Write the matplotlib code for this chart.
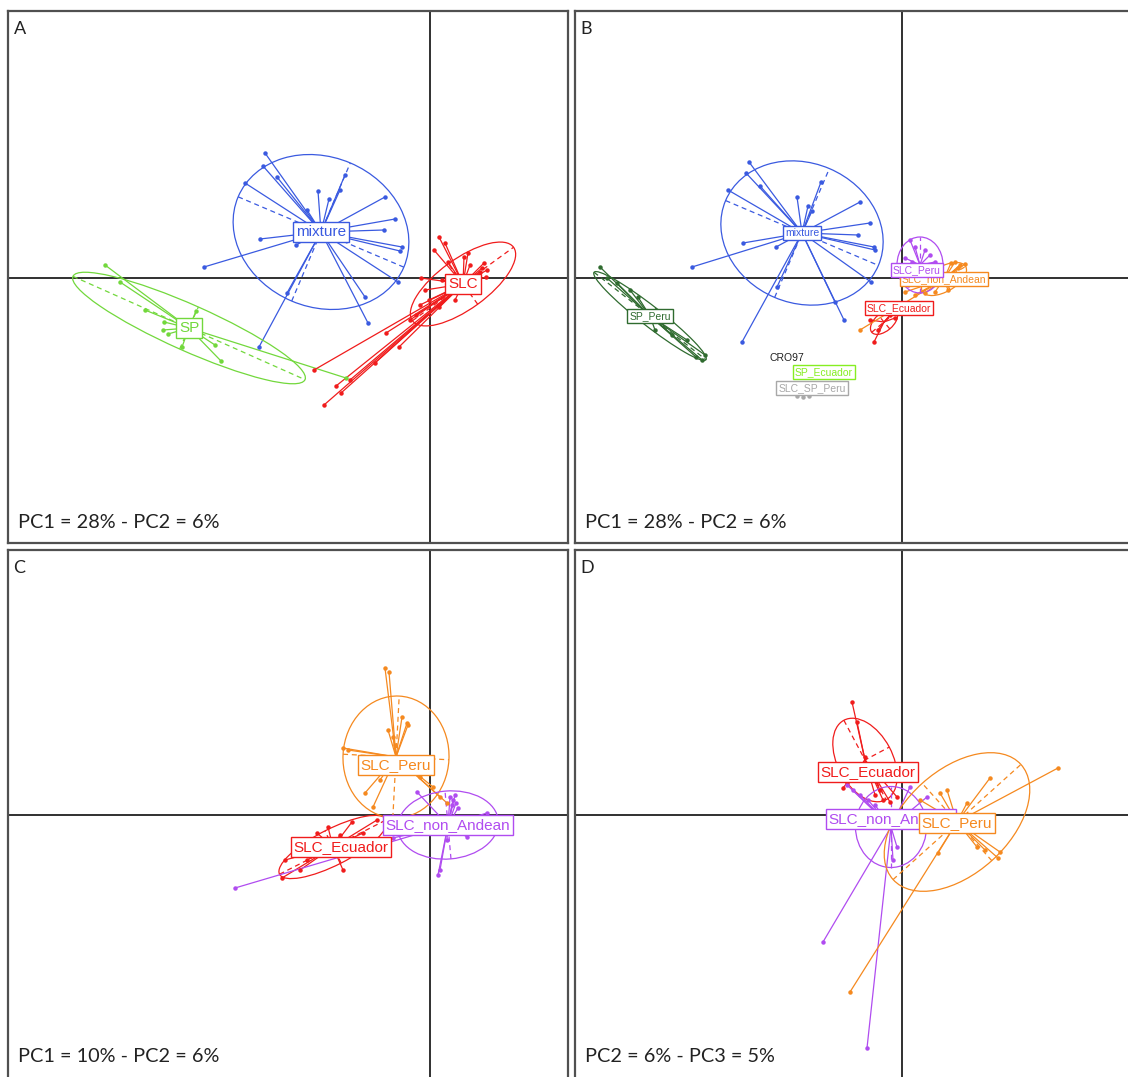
import matplotlib
matplotlib.use("Agg")
import matplotlib.pyplot as plt
from matplotlib.patches import Ellipse
import numpy as np

# ---------------- Panel A : PC1 (28%) x PC2 (6%) ----------------
A_MIX_X = [-1.65, -1.67, -1.85, -1.53, -1.12, -1.01, -0.85, -0.45, -0.35, -0.46, -0.28,
           -0.30, -0.32, -0.65, -0.62, -1.43, -1.71, -2.26, -1.70, -1.34, -1.23, -0.90]
A_MIX_Y = [1.25, 1.12, 0.95, 1.01, 0.87, 0.79, 1.03, 0.81, 0.59, 0.48, 0.31,
           0.27, -0.04, -0.19, -0.45, -0.15, -0.69, 0.11, 0.39, 0.33, 0.68, 0.88]
A_MIX_CENTER = (-1.09, 0.46)
A_MIX_ELL = (1.80, 1.50, -23)

A_SP_X = [-3.25, -3.10, -2.85, -2.66, -2.67, -2.62, -2.48, -2.34, -2.09, -0.84, -2.15]
A_SP_Y = [0.13, -0.04, -0.32, -0.44, -0.52, -0.56, -0.69, -0.33, -0.83, -1.00, -0.67]
A_SP_CENTER = (-2.41, -0.50)
A_SP_ELL = (2.54, 0.46, -24)

A_SLC_X = [-1.06, -0.94, -0.89, -1.16, -0.44, -0.31, -0.55, -0.80, -0.20, -0.10,
           0.09, 0.15, 0.34, 0.38, 0.04, -0.09, 0.54, 0.56, -0.01, 0.09, 0.16,
           0.50, 0.52, 0.48, 0.45, 0.25, 0.12, 0.57, 0.40, 0.18, -0.05, -0.14]
A_SLC_Y = [-1.27, -1.08, -1.15, -0.92, -0.55, -0.69, -0.85, -1.02, -0.42, -0.27,
           0.41, 0.35, 0.21, 0.25, 0.28, 0.00, 0.15, 0.01, -0.22, -0.29, -0.15,
           0.06, 0.10, -0.02, -0.14, -0.22, -0.02, 0.08, 0.13, 0.16, -0.12, -0.37]
A_SLC_CENTER = (0.33, -0.06)
A_SLC_ELL = (1.25, 0.50, 36)

# ---------------- Panel B : PC1 (28%) x PC2 (6%), origin split ----------------
B_MIX_X = [-1.53, -1.56, -1.74, -1.42, -1.05, -0.94, -0.81, -0.42, -0.32, -0.44, -0.28,
           -0.27, -0.31, -0.67, -0.58, -1.26, -1.60, -2.10, -1.59, -1.25, -0.90]
B_MIX_Y = [1.16, 1.05, 0.88, 0.92, 0.81, 0.72, 0.96, 0.76, 0.55, 0.43, 0.31,
           0.28, -0.04, -0.24, -0.42, 0.31, -0.64, 0.11, 0.35, -0.09, 0.67]
B_MIX_CENTER = (-1.00, 0.45)
B_MIX_ELL = (1.66, 1.40, -23)

B_SPPERU_X = [-3.02, -2.95, -2.85, -2.64, -2.47, -2.30, -2.15, -1.97, -2.00, -2.06, -2.72]
B_SPPERU_Y = [0.11, 0.00, -0.05, -0.19, -0.52, -0.57, -0.62, -0.77, -0.82, -0.79, -0.12]
B_SPPERU_CENTER = (-2.52, -0.38)
B_SPPERU_ELL = (1.42, 0.20, -38)

B_SLCPERU_X = [0.08, 0.13, 0.23, 0.28, 0.03, 0.33, 0.10, -0.02, 0.16, 0.06, 0.38]
B_SLCPERU_Y = [0.38, 0.31, 0.28, 0.23, 0.20, 0.16, 0.16, 0.10, -0.02, -0.07, 0.08]
B_SLCPERU_CENTER = (0.18, 0.13)
B_SLCPERU_ELL = (0.46, 0.56, 0)

B_NONAND_X = [0.49, 0.53, 0.58, 0.63, 0.56, 0.03, 0.13, 0.23, 0.33, 0.46, -0.42]
B_NONAND_Y = [0.15, 0.16, 0.13, 0.14, 0.10, -0.14, -0.17, -0.15, -0.14, -0.12, -0.52]
B_NONAND_CENTER = (0.42, -0.01)
B_NONAND_ELL = (0.50, 0.25, 30)

B_ECU_X = [-0.28, -0.12, -0.07, -0.24, -0.02, -0.32]
B_ECU_Y = [-0.64, -0.37, -0.40, -0.52, -0.27, -0.42]
B_ECU_CENTER = (-0.18, -0.44)
B_ECU_ELL = (0.32, 0.18, 40)

B_SPECU_POS = (-0.78, -0.94)
B_SLCSP_POS = (-0.90, -1.10)
B_SLCSP_X = [-1.05, -0.99, -0.93]
B_SLCSP_Y = [-1.18, -1.19, -1.18]
B_CRO97_POS = (-1.15, -0.80)

# ---------------- Panel C : PC1 (10%) x PC2 (6%) ----------------
C_PERU_X = [-0.45, -0.41, -0.23, -0.28, -0.22, -0.37, -0.87, -0.82, -0.57, -0.50,
            0.17, 0.10, 0.03, -0.10, -0.35, -0.42, -0.65]
C_PERU_Y = [1.47, 1.43, 0.92, 0.98, 0.90, 0.78, 0.67, 0.65, 0.08, 0.35,
            0.12, 0.18, 0.28, 0.38, 0.70, 0.85, 0.22]
C_PERU_CENTER = (-0.34, 0.58)
C_PERU_ELL = (1.06, 1.22, -3)

C_NONAND_X = [0.20, 0.23, 0.26, 0.28, 0.22, 0.25, 0.08, 0.10, 0.17, 0.57,
              -1.95, -0.13, -0.37, 0.37, 0.45]
C_NONAND_Y = [0.18, 0.15, 0.12, 0.07, 0.10, 0.20, -0.60, -0.55, -0.25, 0.02,
              -0.73, 0.23, -0.23, -0.22, -0.05]
C_NONAND_CENTER = (0.18, -0.10)
C_NONAND_ELL = (1.01, 0.68, 5)

C_ECU_X = [-1.48, -1.45, -0.87, -0.67, -0.53, -1.13, -1.23, -1.02, -0.78, -1.30, -0.90]
C_ECU_Y = [-0.63, -0.45, -0.55, -0.18, -0.05, -0.18, -0.45, -0.12, -0.07, -0.55, -0.20]
C_ECU_CENTER = (-0.97, -0.32)
C_ECU_ELL = (1.20, 0.36, 27)

# ---------------- Panel D : PC2 (6%) x PC3 (5%) ----------------
D_ECU_X = [-0.50, -0.45, -0.37, -0.59, -0.22, -0.19, -0.05, -0.55, -0.12, -0.27]
D_ECU_Y = [1.13, 0.93, 0.58, 0.27, 0.25, 0.15, 0.18, 0.32, 0.13, 0.20]
D_ECU_CENTER = (-0.37, 0.55)
D_ECU_ELL = (0.90, 0.55, -62)

D_NONAND_X = [-0.79, -0.35, 0.08, 0.25, -0.55, -0.49, -0.42, -0.34, -0.27, -0.05, -0.09]
D_NONAND_Y = [-1.27, -2.33, 0.28, 0.18, 0.30, 0.25, 0.20, 0.15, 0.10, -0.32, -0.45]
D_NONAND_CENTER = (-0.11, -0.12)
D_NONAND_ELL = (0.71, 0.81, 0)

D_PERU_X = [1.56, -0.52, 0.88, 0.96, 0.98, 0.38, 0.45, 0.36, 0.65, 0.75, 0.83, 0.18]
D_PERU_Y = [0.47, -1.77, 0.37, -0.43, -0.37, 0.22, 0.25, -0.38, 0.12, -0.32, -0.35, 0.15]
D_PERU_CENTER = (0.55, -0.07)
D_PERU_ELL = (1.72, 1.04, 42)

PANEL_TEXT = ["PC1 = 28% - PC2 = 6%", "PC1 = 28% - PC2 = 6%",
              "PC1 = 10% - PC2 = 6%", "PC2 = 6% - PC3 = 5%"]

BLUE = "#3a5ae0"
LIME = "#72d83c"
RED = "#f01c1c"
DKGREEN = "#2f6b2f"
VIOLET = "#b04cf0"
ORANGE = "#f5891f"
LTGREEN = "#86ee22"
GREY = "#a8a8a8"

LABEL_FONT = "Liberation Sans"
CAPTION_FONT = ["Lato", "DejaVu Sans"]


def draw_group(ax, xs, ys, center, ell, color, label, fs, label_pos=None):
    cx, cy = center
    for x, y in zip(xs, ys):
        ax.plot([cx, x], [cy, y], color=color, lw=0.9, zorder=2)
    ax.plot(xs, ys, "o", color=color, ms=2.2, zorder=3)
    if ell is not None:
        major, minor, angle = ell
        ax.add_patch(Ellipse((cx, cy), major, minor, angle=angle, fill=False,
                             ec=color, lw=0.9, zorder=2))
        t = np.deg2rad(angle)
        for half, phi in ((major / 2, t), (minor / 2, t + np.pi / 2)):
            dx, dy = half * np.cos(phi), half * np.sin(phi)
            ax.plot([cx - dx, cx + dx], [cy - dy, cy + dy], color=color, lw=0.9,
                    ls=(0, (4, 3)), zorder=2)
    if label:
        lx, ly = label_pos if label_pos is not None else center
        box_label(ax, lx, ly, label, color, fs)


def box_label(ax, x, y, label, color, fs):
    ax.text(x, y, label, color=color, fontsize=fs, family=LABEL_FONT,
            ha="center", va="center", zorder=6,
            bbox=dict(boxstyle="square,pad=0.18", fc="white", ec=color, lw=1.0))


def make_panel(fig, px_left, px_top, px_w, px_h, x0, y0, letter, caption):
    W, H = 1128, 1077
    ax = fig.add_axes([px_left / W, 1 - (px_top + px_h) / H, px_w / W, px_h / H])
    ax.set_xlim((px_left - x0) / 100, (px_left + px_w - x0) / 100)
    ax.set_ylim((y0 - px_top - px_h) / 100, (y0 - px_top) / 100)
    ax.set_xticks([])
    ax.set_yticks([])
    for s in ax.spines.values():
        s.set_color("#505050")
        s.set_linewidth(1.6)
    ax.axhline(0, color="#303030", lw=1.4, zorder=1)
    ax.axvline(0, color="#303030", lw=1.4, zorder=1)
    ax.text(0.010, 0.982, letter, transform=ax.transAxes, ha="left", va="top",
            fontsize=13, family=CAPTION_FONT, color="#222222")
    ax.text(0.018, 0.028 if px_top < 100 else 0.038, caption, transform=ax.transAxes,
            ha="left", va="baseline", fontsize=14.3, family=CAPTION_FONT, color="#222222")
    return ax


def main():
    fig = plt.figure(figsize=(11.28, 10.77), dpi=100)

    # A
    ax = make_panel(fig, 8, 11, 560, 532, 430, 278, "A", PANEL_TEXT[0])
    draw_group(ax, A_MIX_X, A_MIX_Y, A_MIX_CENTER, A_MIX_ELL, BLUE, "mixture", 11)
    draw_group(ax, A_SP_X, A_SP_Y, A_SP_CENTER, A_SP_ELL, LIME, "SP", 11)
    draw_group(ax, A_SLC_X, A_SLC_Y, A_SLC_CENTER, A_SLC_ELL, RED, "SLC", 11)

    # B
    ax = make_panel(fig, 575, 11, 560, 532, 902, 278, "B", PANEL_TEXT[1])
    draw_group(ax, B_MIX_X, B_MIX_Y, B_MIX_CENTER, B_MIX_ELL, BLUE, "mixture", 7.5)
    draw_group(ax, B_SPPERU_X, B_SPPERU_Y, B_SPPERU_CENTER, B_SPPERU_ELL, DKGREEN,
               "SP_Peru", 7.5)
    draw_group(ax, B_ECU_X, B_ECU_Y, B_ECU_CENTER, B_ECU_ELL, RED, "SLC_Ecuador", 7.5,
               label_pos=(-0.03, -0.30))
    draw_group(ax, B_NONAND_X, B_NONAND_Y, B_NONAND_CENTER, B_NONAND_ELL, ORANGE,
               "SLC_non_Andean", 7.5)
    draw_group(ax, B_SLCPERU_X, B_SLCPERU_Y, B_SLCPERU_CENTER, B_SLCPERU_ELL, VIOLET,
               "SLC_Peru", 7.5, label_pos=(0.15, 0.08))
    draw_group(ax, B_SLCSP_X, B_SLCSP_Y, B_SLCSP_POS, None, GREY, None, 7.5)
    box_label(ax, *B_SLCSP_POS, "SLC_SP_Peru", GREY, 7.5)
    box_label(ax, *B_SPECU_POS, "SP_Ecuador", LTGREEN, 7.5)
    ax.text(*B_CRO97_POS, "CRO97", fontsize=7.5, family=LABEL_FONT, color="#202020",
            ha="center", va="center", zorder=6)

    # C
    ax = make_panel(fig, 8, 550, 560, 532, 430, 815, "C", PANEL_TEXT[2])
    draw_group(ax, C_ECU_X, C_ECU_Y, C_ECU_CENTER, C_ECU_ELL, RED, "SLC_Ecuador", 11,
               label_pos=(-0.89, -0.32))
    draw_group(ax, C_PERU_X, C_PERU_Y, C_PERU_CENTER, C_PERU_ELL, ORANGE, "SLC_Peru", 11,
               label_pos=(-0.34, 0.50))
    draw_group(ax, C_NONAND_X, C_NONAND_Y, C_NONAND_CENTER, C_NONAND_ELL, VIOLET,
               "SLC_non_Andean", 11)

    # D
    ax = make_panel(fig, 575, 550, 560, 532, 902, 815, "D", PANEL_TEXT[3])
    draw_group(ax, D_ECU_X, D_ECU_Y, D_ECU_CENTER, D_ECU_ELL, RED, "SLC_Ecuador", 11,
               label_pos=(-0.34, 0.43))
    draw_group(ax, D_NONAND_X, D_NONAND_Y, D_NONAND_CENTER, D_NONAND_ELL, VIOLET,
               "SLC_non_Andean", 11, label_pos=(-0.11, -0.04))
    draw_group(ax, D_PERU_X, D_PERU_Y, D_PERU_CENTER, D_PERU_ELL, ORANGE, "SLC_Peru", 11,
               label_pos=(0.55, -0.08))

    fig.savefig("out.png", dpi=100)


if __name__ == "__main__":
    main()
